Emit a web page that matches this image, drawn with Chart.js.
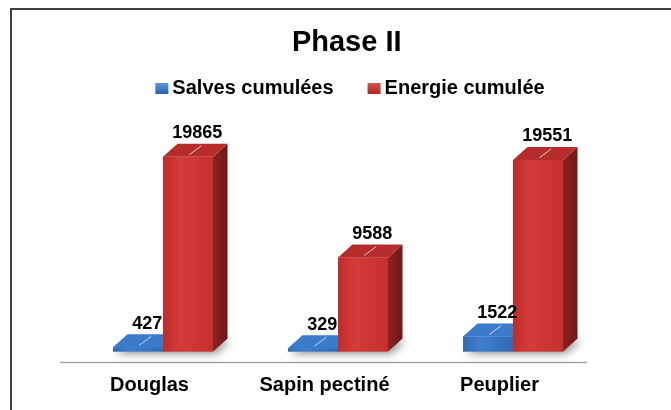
<!DOCTYPE html>
<html>
<head>
<meta charset="utf-8">
<script src="https://cdn.jsdelivr.net/npm/chart.js@4"></script>
<style>
  html, body { margin: 0; padding: 0; background: #ffffff; }
  #wrap { width: 671px; height: 410px; position: relative; }
</style>
</head>
<body>
<div id="wrap"><canvas id="chart" width="671" height="410"></canvas></div>
<script>
// ---- data ----
const chartTitle = 'Phase II';
const categories = ['Douglas', 'Sapin pectiné', 'Peuplier'];
const seriesNames = ['Salves cumulées', 'Energie cumulée'];
const salvesCumulees = [427, 329, 1522];
const energieCumulee = [19865, 9588, 19551];

// ---- styling ----
const FONT = "'Liberation Sans', Arial, Helvetica, sans-serif";
const DEPTH_X = 14.5;   // horizontal depth of the 3D boxes
const DEPTH_Y = -13;    // vertical depth (upwards)
const palettes = [
  { front: ['#2f69b3', '#3f80cf', '#2f6ab4'], top: '#3b7bcc', side: ['#28599a', '#1d4478'], legend: ['#5c97dd', '#2c63aa'] },
  { front: ['#c02c2a', '#d43c39', '#c52f2d'], top: '#b52c2b', side: ['#8f2222', '#6e1616'], legend: ['#dc5350', '#b02826'] }
];

// white background + frame lines (top and left edges)
const framePlugin = {
  id: 'frame',
  beforeDraw(chart) {
    const ctx = chart.ctx;
    ctx.save();
    ctx.fillStyle = '#ffffff';
    ctx.fillRect(0, 0, chart.width, chart.height);
    ctx.strokeStyle = '#3f3f3f';
    ctx.lineWidth = 2;
    ctx.beginPath();
    ctx.moveTo(11, chart.height);
    ctx.lineTo(11, 9);
    ctx.lineTo(chart.width, 9);
    ctx.stroke();
    ctx.restore();
  }
};

// title and legend row
const headerPlugin = {
  id: 'header',
  afterDraw(chart) {
    const ctx = chart.ctx;
    ctx.save();
    ctx.fillStyle = '#000000';
    ctx.textBaseline = 'middle';
    ctx.textAlign = 'center';
    ctx.font = 'bold 29px ' + FONT;
    ctx.fillText(chartTitle, 346.7, 43);

    ctx.font = 'bold 20px ' + FONT;
    const box = 13, boxGap = 4, itemGap = 34, centerX = 350, rowY = 88;
    const widths = seriesNames.map(t => box + boxGap + ctx.measureText(t).width);
    const total = widths.reduce((a, b) => a + b, 0) + itemGap * (widths.length - 1);
    let x = centerX - total / 2;
    ctx.textAlign = 'left';
    seriesNames.forEach((name, i) => {
      const g = ctx.createLinearGradient(0, rowY - 5.5, 0, rowY + 5.5);
      g.addColorStop(0, palettes[i].legend[0]);
      g.addColorStop(1, palettes[i].legend[1]);
      ctx.fillStyle = g;
      ctx.fillRect(x, rowY - 5, box, 11);
      ctx.fillStyle = '#000000';
      ctx.fillText(name, x + box + boxGap, rowY);
      x += widths[i] + itemGap;
    });
    ctx.restore();
  }
};

function barGeometry(chart, d, i) {
  const el = chart.getDatasetMeta(d).data[i];
  const p = el.getProps(['x', 'y', 'base', 'width'], true);
  return { l: p.x - p.width / 2, r: p.x + p.width / 2, x: p.x, y: p.y, base: p.base, w: p.width };
}

// 3D boxes built on top of the bar elements placed by the scales
const bars3dPlugin = {
  id: 'bars3d',
  beforeDatasetsDraw(chart) {
    const ctx = chart.ctx;
    const n = chart.data.datasets.length;
    ctx.save();
    categories.forEach((c, i) => {
      const a = barGeometry(chart, 0, i);
      const b = barGeometry(chart, n - 1, i);
      ctx.shadowColor = 'rgba(0,0,0,0.45)';
      ctx.shadowBlur = 9;
      ctx.shadowOffsetX = 3;
      ctx.shadowOffsetY = 2;
      ctx.fillStyle = '#9a9a9a';
      ctx.beginPath();
      ctx.moveTo(a.l, a.base);
      ctx.lineTo(b.r, b.base);
      ctx.lineTo(b.r + DEPTH_X, b.base + DEPTH_Y);
      ctx.lineTo(a.l + DEPTH_X, a.base + DEPTH_Y);
      ctx.closePath();
      ctx.fill();
    });
    ctx.restore();

    // floor edge line
    const area = chart.chartArea;
    ctx.save();
    ctx.strokeStyle = '#a6a6a6';
    ctx.lineWidth = 1.5;
    ctx.beginPath();
    ctx.moveTo(area.left - 15.5, area.bottom + 11);
    ctx.lineTo(area.right - 13.5, area.bottom + 11);
    ctx.stroke();
    ctx.restore();
  },
  afterDatasetsDraw(chart) {
    const ctx = chart.ctx;
    const n = chart.data.datasets.length;
    ctx.save();
    categories.forEach((c, i) => {
      for (let d = 0; d < n; d++) {
        const g = barGeometry(chart, d, i);
        const pal = palettes[d];
        // right side face
        const sg = ctx.createLinearGradient(g.r, 0, g.r + DEPTH_X, 0);
        sg.addColorStop(0, pal.side[0]);
        sg.addColorStop(1, pal.side[1]);
        ctx.fillStyle = sg;
        ctx.beginPath();
        ctx.moveTo(g.r, g.y);
        ctx.lineTo(g.r + DEPTH_X, g.y + DEPTH_Y);
        ctx.lineTo(g.r + DEPTH_X, g.base + DEPTH_Y);
        ctx.lineTo(g.r, g.base);
        ctx.closePath();
        ctx.fill();
        // top face
        ctx.fillStyle = pal.top;
        ctx.beginPath();
        ctx.moveTo(g.l, g.y);
        ctx.lineTo(g.l + DEPTH_X, g.y + DEPTH_Y);
        ctx.lineTo(g.r + DEPTH_X, g.y + DEPTH_Y);
        ctx.lineTo(g.r, g.y);
        ctx.closePath();
        ctx.fill();
        // front face
        const fg = ctx.createLinearGradient(g.l, 0, g.r, 0);
        fg.addColorStop(0, pal.front[0]);
        fg.addColorStop(0.35, pal.front[1]);
        fg.addColorStop(1, pal.front[2]);
        ctx.fillStyle = fg;
        ctx.fillRect(g.l, g.y, g.w, g.base - g.y);
      }
    });

    // value labels with short leader lines on the top faces
    ctx.textAlign = 'center';
    ctx.textBaseline = 'middle';
    ctx.font = 'bold 18px ' + FONT;
    chart.data.datasets.forEach((ds, d) => {
      ds.data.forEach((v, i) => {
        const g = barGeometry(chart, d, i);
        const tx = g.x + DEPTH_X / 2, ty = g.y + DEPTH_Y / 2;
        ctx.strokeStyle = 'rgba(225,225,225,0.9)';
        ctx.lineWidth = 1;
        ctx.beginPath();
        ctx.moveTo(tx - 6, ty + 4.5);
        ctx.lineTo(tx + 6, ty - 4.5);
        ctx.stroke();
        ctx.fillStyle = '#000000';
        ctx.fillText(String(v), tx + 2, g.y + DEPTH_Y - 10.5);
      });
    });
    ctx.restore();
  }
};

new Chart(document.getElementById('chart').getContext('2d'), {
  type: 'bar',
  data: {
    labels: categories,
    datasets: [
      { label: seriesNames[0], data: salvesCumulees, backgroundColor: palettes[0].front[1],
        categoryPercentage: 100 / 175, barPercentage: 1, borderWidth: 0 },
      { label: seriesNames[1], data: energieCumulee, backgroundColor: palettes[1].front[1],
        categoryPercentage: 100 / 175, barPercentage: 1, borderWidth: 0 }
    ]
  },
  options: {
    responsive: false,
    animation: false,
    events: [],
    layout: { padding: { top: 106.5, left: 75.5, right: 70.5, bottom: 0 } },
    plugins: {
      legend: { display: false },
      title: { display: false },
      tooltip: { enabled: false }
    },
    scales: {
      x: {
        grid: { display: false, drawTicks: false },
        border: { display: false },
        ticks: {
          color: '#000000',
          font: { family: FONT, size: 20, weight: 'bold' },
          padding: 22,
          labelOffset: -13.5,
          maxRotation: 0
        },
        afterFit(axis) { axis.height = 58.5; }
      },
      y: { display: false, min: 0, max: 25000 }
    }
  },
  plugins: [framePlugin, bars3dPlugin, headerPlugin]
});
</script>
</body>
</html>
